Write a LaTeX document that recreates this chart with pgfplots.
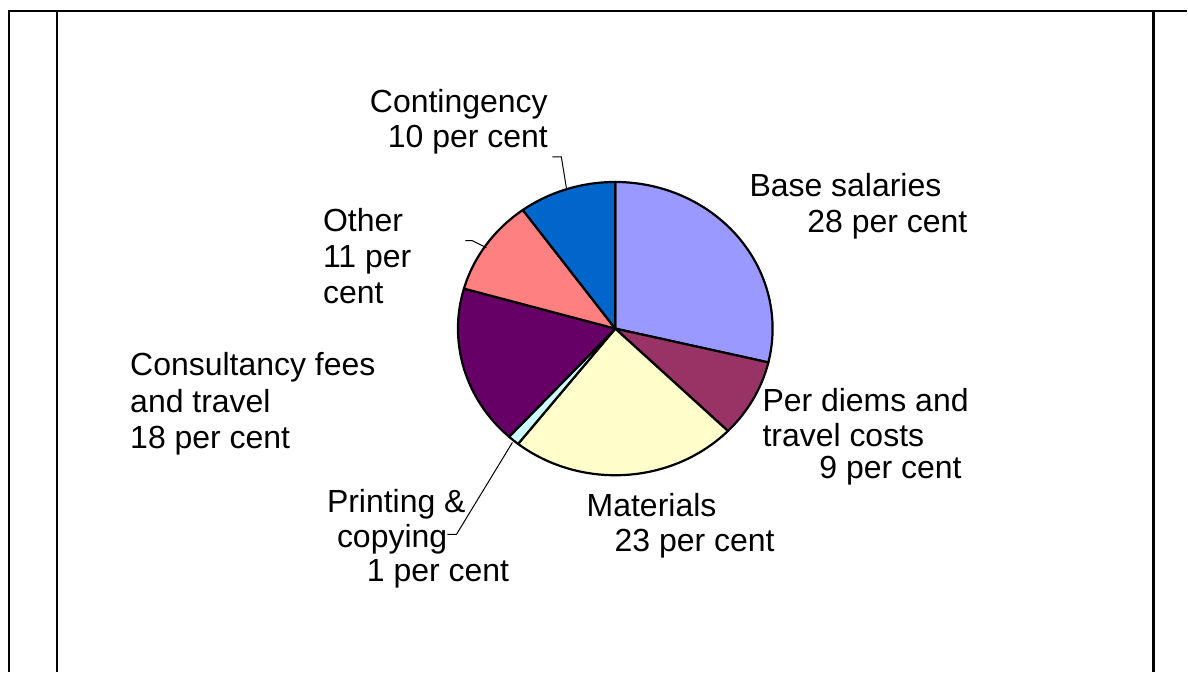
\documentclass[border=0pt]{standalone}
\usepackage{pgfplots}
\pgfplotsset{compat=1.18}
\usepackage{pgfplotstable}
\usepackage{fontspec}
\setmainfont{Liberation Sans}
\definecolor{cBase}{HTML}{9999FF}
\definecolor{cDiem}{HTML}{993366}
\definecolor{cMat}{HTML}{FFFFCC}
\definecolor{cPrint}{HTML}{CCFFFF}
\definecolor{cCons}{HTML}{660066}
\definecolor{cOther}{HTML}{FF8080}
\definecolor{cCont}{HTML}{0066CC}
% shares (per cent) read from the slice boundaries
\pgfplotstableread{
value col
28.7 cBase
8.6 cDiem
23.3 cMat
1.2 cPrint
17.6 cCons
10.6 cOther
10.0 cCont
}\piedata
\tikzset{lab/.style={anchor=base west,inner sep=0pt,font=\fontsize{16bp}{18bp}\selectfont}}
\begin{document}
\begin{tikzpicture}
\begin{axis}[x=0.5bp,y=0.5bp,xmin=0,xmax=1188,ymin=0,ymax=673,y dir=reverse,
  hide axis,clip=false,scale only axis]
\path (axis cs:0,0) rectangle (axis cs:1188,673);
% frame lines
\draw[line width=1.4bp] (axis cs:9,673) -- (axis cs:9,11) -- (axis cs:1188,11);
\draw[line width=1.4bp] (axis cs:57,11) -- (axis cs:57,673);
\draw[line width=1.4bp] (axis cs:1155,11) -- (axis cs:1155,673);
% pie
\def\cum{0}
\pgfplotsforeachungrouped \i in {0,...,6}{%
  \pgfplotstablegetelem{\i}{value}\of\piedata \let\sliceval\pgfplotsretval
  \pgfplotstablegetelem{\i}{col}\of\piedata \let\slicecol\pgfplotsretval
  \pgfmathsetmacro\angA{90-3.6*\cum}%
  \pgfmathsetmacro\angB{90-3.6*(\cum+\sliceval)}%
  \pgfmathsetmacro\cum{\cum+\sliceval}%
  \edef\temp{\noexpand\draw[fill=\slicecol,line width=1.1bp,line join=round] (axis cs:616,329) -- ++(\angA:78.75bp and 73.4bp) arc[start angle=\angA, end angle=\angB, x radius=78.75bp, y radius=73.4bp] -- cycle;}%
  \temp
}
% leader lines
\draw[line width=0.5bp] (axis cs:553,157) -- (axis cs:562,157) -- (axis cs:567,188);
\draw[line width=0.5bp] (axis cs:466,241) -- (axis cs:473,241) -- (axis cs:487,248);
\draw[line width=0.5bp] (axis cs:448,535) -- (axis cs:457,535) -- (axis cs:513,443);
% labels
\node[lab] at (axis cs:370,113) {Contingency};
\node[lab] at (axis cs:388,148) {10 per cent};
\node[lab] at (axis cs:750,197) {Base salaries};
\node[lab] at (axis cs:808,233) {28 per cent};
\node[lab] at (axis cs:323,232) {Other};
\node[lab] at (axis cs:323,268) {11 per};
\node[lab] at (axis cs:323,304) {cent};
\node[lab] at (axis cs:130,376) {Consultancy fees};
\node[lab] at (axis cs:130,413) {and travel};
\node[lab] at (axis cs:130,449) {18 per cent};
\node[lab] at (axis cs:763,412) {Per diems and};
\node[lab] at (axis cs:763,447) {travel costs};
\node[lab] at (axis cs:820,479) {9 per cent};
\node[lab] at (axis cs:587,517) {Materials};
\node[lab] at (axis cs:615,552) {23 per cent};
\node[lab] at (axis cs:327,513) {Printing \&};
\node[lab] at (axis cs:337,548) {copying};
\node[lab] at (axis cs:367,582) {1 per cent};
\end{axis}
\end{tikzpicture}
\end{document}
